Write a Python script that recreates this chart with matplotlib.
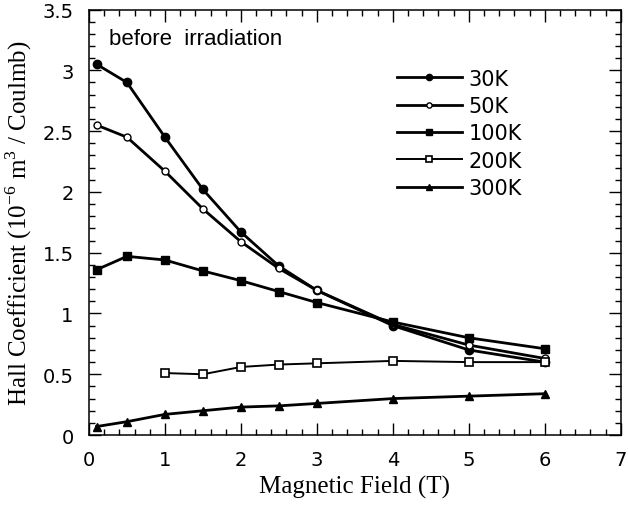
#Hall coefficient vs magnetic field, before irradiation

import numpy as np
import matplotlib as mpl
import matplotlib.pyplot as plt
from matplotlib.ticker import MultipleLocator

mpl.rcParams['font.family'] = 'DejaVu Sans'
mpl.rcParams['mathtext.fontset'] = 'custom'
mpl.rcParams['mathtext.rm'] = 'Liberation Serif'

#measured data
B_full = [0.1, 0.5, 1, 1.5, 2, 2.5, 3, 4, 5, 6]   #field values (T)
B_200 = [1, 1.5, 2, 2.5, 3, 4, 5, 6]

R_30K = [3.05, 2.90, 2.45, 2.02, 1.67, 1.39, 1.19, 0.90, 0.70, 0.60]
R_50K = [2.55, 2.45, 2.17, 1.86, 1.59, 1.37, 1.19, 0.91, 0.74, 0.63]
R_100K = [1.36, 1.47, 1.44, 1.35, 1.27, 1.18, 1.09, 0.93, 0.80, 0.71]
R_200K = [0.51, 0.50, 0.56, 0.58, 0.59, 0.61, 0.60, 0.60]
R_300K = [0.07, 0.11, 0.17, 0.20, 0.23, 0.24, 0.26, 0.30, 0.32, 0.34]

fig = plt.figure(figsize=(6.28, 5.10), dpi=100)
ax = fig.add_axes([0.1417, 0.145, 0.8467, 0.8343])

kw = dict(color='black', lw=2.0)
ax.plot(B_full, R_30K, marker='o', markersize=6, label='30K', **kw)
ax.plot(B_full, R_50K, marker='o', markersize=5, mfc='white', mew=1, label='50K', **kw)
ax.plot(B_full, R_100K, marker='s', markersize=6, label='100K', **kw)
ax.plot(B_200, R_200K, marker='s', markersize=5.5, mfc='white', mew=1.2, label='200K',
        lw=1.4, color='black')
ax.plot(B_full, R_300K, marker='^', markersize=6, label='300K', **kw)

ax.set_xlim(0, 7)
ax.set_ylim(0, 3.5)
ax.xaxis.set_major_locator(MultipleLocator(1))
ax.xaxis.set_minor_locator(MultipleLocator(0.2))
ax.yaxis.set_minor_locator(MultipleLocator(0.1))
ax.set_yticks([0, 0.5, 1, 1.5, 2, 2.5, 3, 3.5], ['0', '0.5', '1', '1.5', '2', '2.5', '3', '3.5'])
ax.tick_params(which='both', direction='in', top=True, right=True, labelsize=14, width=1)
ax.tick_params(which='major', length=8.5, pad=11)
ax.tick_params(which='minor', length=4)
for s in ax.spines.values():
    s.set_linewidth(1.1)

ax.set_xlabel('Magnetic Field (T)', family='Liberation Serif', fontsize=18, labelpad=4)
ax.set_ylabel('Hall Coefficient (10$^{-6}$ m$^{3}$ / Coulmb)', family='Liberation Serif',
              fontsize=18, labelpad=6)
ax.text(0.26, 3.215, 'before  irradiation', family='Liberation Sans', fontsize=16,
        va='baseline')

ax.legend(loc='upper left', bbox_to_anchor=(0.579, 0.861), frameon=False, fontsize=15,
          handlelength=3.13, handletextpad=0.32, labelspacing=0.35, borderpad=0,
          borderaxespad=0, markerscale=0.75)

plt.savefig('out.png', dpi=100)
